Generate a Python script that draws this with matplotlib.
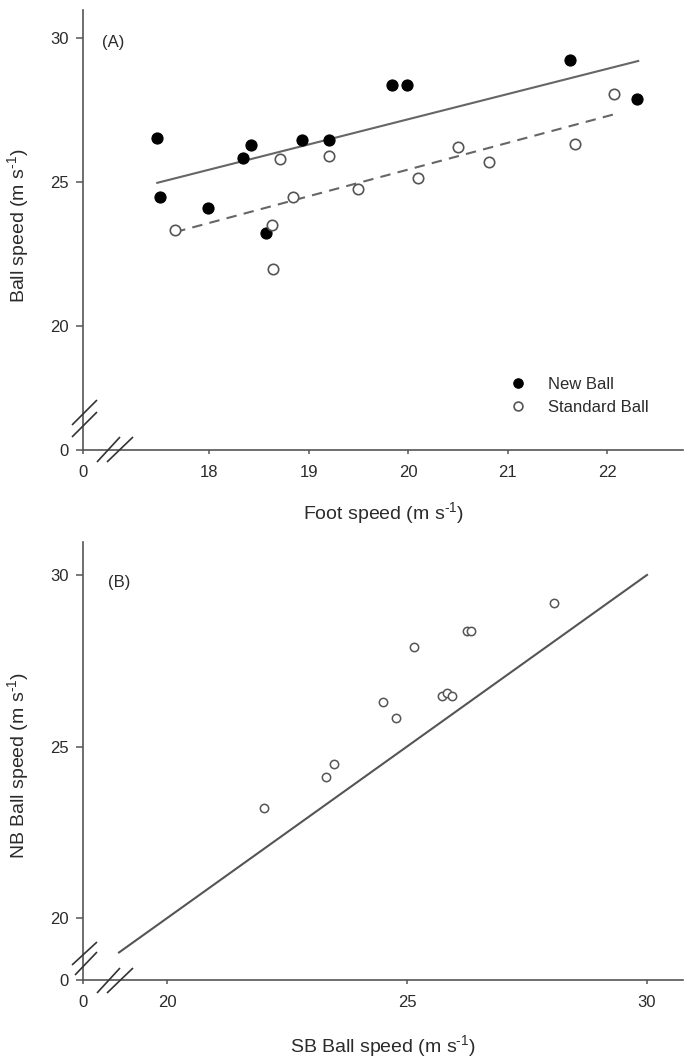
import numpy as np
import matplotlib
matplotlib.use("Agg")
import matplotlib.pyplot as plt
from matplotlib.lines import Line2D

# ---------------- data ----------------
# Panel A: foot speed vs ball speed
nb_foot = [17.48, 17.51, 17.99, 18.34, 18.42, 18.57, 18.93, 19.20, 19.84, 19.99, 21.63, 22.30]
nb_ball = [26.53, 24.48, 24.10, 25.83, 26.28, 23.23, 26.46, 26.46, 28.37, 28.37, 29.24, 27.88]
sb_foot = [17.66, 18.63, 18.64, 18.71, 18.84, 19.20, 19.50, 20.10, 20.50, 20.81, 21.68, 22.07]
sb_ball = [23.33, 23.50, 21.98, 25.80, 24.48, 25.90, 24.76, 25.14, 26.22, 25.69, 26.32, 28.06]
# regression lines (end points)
nb_fit_x = [17.48, 22.31]
nb_fit_y = [24.97, 29.20]
sb_fit_x = [17.66, 22.08]
sb_fit_y = [23.26, 27.36]

# Panel B: SB ball speed vs NB ball speed
sb_speed = [22.02, 23.31, 23.48, 24.50, 24.77, 25.73, 25.83, 25.94, 26.24, 26.34, 25.15, 28.06]
nb_speed = [23.20, 24.10, 24.50, 26.31, 25.84, 26.48, 26.56, 26.46, 28.37, 28.37, 27.90, 29.19]
identity_x = [19.0, 30.0]
identity_y = [19.0, 30.0]

xticks_a = [0, 18, 19, 20, 21, 22]
yticks_a = [0, 20, 25, 30]
xticks_b = [0, 20, 25, 30]
yticks_b = [0, 20, 25, 30]

# ---------------- style ----------------
FONT = ["Liberation Sans", "DejaVu Sans"]
plt.rcParams["font.family"] = FONT
plt.rcParams["mathtext.fontset"] = "custom"
plt.rcParams["mathtext.rm"] = "Liberation Sans"
plt.rcParams["mathtext.it"] = "Liberation Sans:italic"
plt.rcParams["mathtext.bf"] = "Liberation Sans:bold"
AXC = "#555555"
TXT = "#2b2b2b"
W, H = 690, 1059
UNIT = " (m s$^{\\text{-1}}$)"


def make_break(v0, gap):
    def fwd(v):
        v = np.asarray(v, dtype=float)
        return np.where(v >= v0, v, v0 - gap + v * gap / v0)

    def inv(t):
        t = np.asarray(t, dtype=float)
        return np.where(t >= v0, t, (t - v0 + gap) * v0 / gap)
    return fwd, inv


def style_axes(ax):
    for s in ["top", "right"]:
        ax.spines[s].set_visible(False)
    for s in ["left", "bottom"]:
        ax.spines[s].set_color(AXC)
        ax.spines[s].set_linewidth(1.2)
    ax.tick_params(axis="y", direction="out", length=5, width=1.1, color=AXC,
                   labelsize=12, labelcolor=TXT, pad=5)
    ax.tick_params(axis="x", direction="out", length=3, width=1.1, color=AXC,
                   labelsize=12, labelcolor=TXT, pad=8)
    ax.minorticks_off()


def px_line(fig, pts, lw=1.2):
    xs = [p[0] / W for p in pts]
    ys = [1 - p[1] / H for p in pts]
    fig.add_artist(Line2D(xs, ys, transform=fig.transFigure, color="#333333",
                          lw=lw, solid_capstyle="butt"))


fig = plt.figure(figsize=(6.9, 10.59), dpi=100)

# ---------------- panel A ----------------
axA = fig.add_axes([83 / W, 1 - 450 / H, 600 / W, 440 / H])
fx, ix = make_break(17.05, 0.316)
fy, iy = make_break(16.8, 1.106)
axA.set_xscale("function", functions=(fx, ix))
axA.set_yscale("function", functions=(fy, iy))
axA.set_xlim(0, 22.76)
axA.set_ylim(0, 30.97)
axA.set_xticks(xticks_a)
axA.set_yticks(yticks_a)
axA.set_xticklabels([str(t) for t in xticks_a])
axA.set_yticklabels([str(t) for t in yticks_a])
style_axes(axA)

axA.plot(nb_fit_x, nb_fit_y, color="#666666", lw=1.5, zorder=2)
axA.plot(sb_fit_x, sb_fit_y, color="#666666", lw=1.5, ls=(0, (5, 3.5)), zorder=2)
axA.plot(nb_foot, nb_ball, ls="none", marker="o", ms=8, mfc="black", mec="black",
         mew=0.8, label="New Ball", zorder=3)
axA.plot(sb_foot, sb_ball, ls="none", marker="o", ms=7.5, mfc="white", mec="#555555",
         mew=1.2, label="Standard Ball", zorder=3)

leg = axA.legend(loc="upper left", bbox_to_anchor=((510 - 83) / 600, (450 - 377) / 440),
                 frameon=False, fontsize=12, borderpad=0, borderaxespad=0,
                 handlelength=1.0, handletextpad=1.3, labelspacing=0.45,
                 markerscale=0.85)
for t in leg.get_texts():
    t.set_color(TXT)

axA.text((102 - 83) / 600, (450 - 43) / 440, "(A)", transform=axA.transAxes,
         fontsize=12, color=TXT, ha="left", va="center")
axA.set_xlabel("Foot speed" + UNIT, fontsize=14, color=TXT)
axA.set_ylabel("Ball speed" + UNIT, fontsize=14, color=TXT)
axA.xaxis.set_label_coords(0.5, -(500 - 450) / 440)
axA.yaxis.set_label_coords((31 - 83) / 600, 0.51)

# break marks panel A
px_line(fig, [(72, 425), (97, 400)])
px_line(fig, [(72, 437), (97, 412)])
px_line(fig, [(97, 462), (120, 437)])
px_line(fig, [(107, 462), (133, 437)])

# ---------------- panel B ----------------
axB = fig.add_axes([83 / W, 1 - 980 / H, 600 / W, 438 / H])
fx2, ix2 = make_break(18.9, 0.65)
fy2, iy2 = make_break(19.0, 0.802)
axB.set_xscale("function", functions=(fx2, ix2))
axB.set_yscale("function", functions=(fy2, iy2))
axB.set_xlim(0, 30.75)
axB.set_ylim(0, 30.96)
axB.set_xticks(xticks_b)
axB.set_yticks(yticks_b)
axB.set_xticklabels([str(t) for t in xticks_b])
axB.set_yticklabels([str(t) for t in yticks_b])
style_axes(axB)

axB.plot(identity_x, identity_y, color="#555555", lw=1.5, zorder=2)
axB.plot(sb_speed, nb_speed, ls="none", marker="o", ms=6, mfc="white", mec="#555555",
         mew=1.1, zorder=3)

axB.text((108 - 83) / 600, (980 - 582) / 438, "(B)", transform=axB.transAxes,
         fontsize=12, color=TXT, ha="left", va="center")
axB.set_xlabel("SB Ball speed" + UNIT, fontsize=14, color=TXT)
axB.set_ylabel("NB Ball speed" + UNIT, fontsize=14, color=TXT)
axB.xaxis.set_label_coords(0.5, -(1033 - 980) / 438)
axB.yaxis.set_label_coords((31 - 83) / 600, 0.49)

# break marks panel B
px_line(fig, [(72, 965), (97, 942)])
px_line(fig, [(75, 975), (97, 952)])
px_line(fig, [(97, 993), (120, 968)])
px_line(fig, [(107, 993), (133, 968)])

fig.savefig("out.png", dpi=100)
